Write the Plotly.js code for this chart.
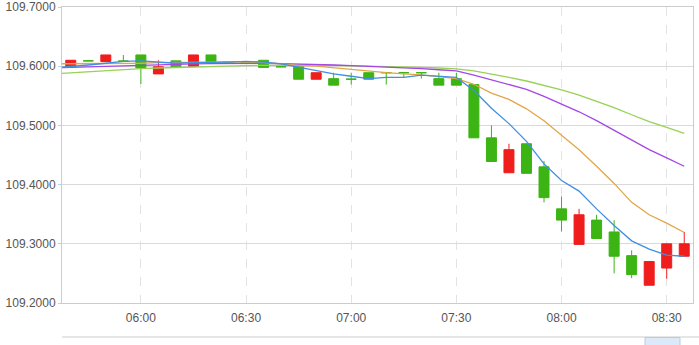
<!DOCTYPE html>
<html>
<head>
<meta charset="utf-8">
<script src="https://cdn.plot.ly/plotly-3.0.1.min.js"></script>
<style>html,body{margin:0;padding:0;background:#fff;}#chart{width:699px;height:345px;}</style>
</head>
<body>
<div id="chart"></div>
<script>
// 5-minute candles, 05:40 .. 08:35
const times = ['05:40','05:45','05:50','05:55','06:00','06:05','06:10','06:15','06:20','06:25','06:30','06:35',
  '06:40','06:45','06:50','06:55','07:00','07:05','07:10','07:15','07:20','07:25','07:30','07:35',
  '07:40','07:45','07:50','07:55','08:00','08:05','08:10','08:15','08:20','08:25','08:30','08:35'];
const openVals  = [109.599,109.6091,109.608,109.609,109.619,109.587,109.609,109.600,109.619,109.6071,109.6061,109.610,
  109.5991,109.599,109.578,109.579,109.5781,109.589,109.5891,109.5891,109.5891,109.579,109.579,109.569,
  109.479,109.420,109.469,109.430,109.359,109.299,109.340,109.320,109.280,109.230,109.259,109.279];
const highVals  = [109.610,109.6091,109.619,109.619,109.619,109.610,109.609,109.619,109.619,109.6071,109.6061,109.610,
  109.5991,109.599,109.589,109.589,109.589,109.589,109.5891,109.5891,109.5891,109.589,109.589,109.569,
  109.500,109.469,109.469,109.440,109.380,109.359,109.349,109.340,109.289,109.270,109.300,109.320];
const lowVals   = [109.599,109.609,109.608,109.608,109.570,109.587,109.599,109.600,109.608,109.607,109.606,109.598,
  109.599,109.578,109.578,109.568,109.569,109.578,109.569,109.580,109.579,109.568,109.568,109.479,
  109.439,109.420,109.419,109.370,109.321,109.299,109.309,109.250,109.242,109.230,109.241,109.279];
const closeVals = [109.610,109.609,109.619,109.608,109.597,109.599,109.599,109.619,109.608,109.607,109.606,109.598,
  109.599,109.578,109.589,109.568,109.578,109.578,109.589,109.589,109.589,109.568,109.568,109.479,
  109.439,109.459,109.419,109.378,109.340,109.349,109.309,109.279,109.248,109.270,109.300,109.300];

// moving-average lines, starting one step before the first candle
const maTimes = ['05:35'].concat(times);
const ma5  = [109.597,109.599,109.602,109.605,109.608,109.609,109.607,109.605,109.606,109.606,109.607,109.608,109.607,
  109.604,109.598,109.593,109.587,109.583,109.579,109.581,109.581,109.585,109.583,109.581,109.559,
  109.529,109.503,109.473,109.435,109.407,109.389,109.359,109.331,109.305,109.291,109.281,109.279];
const ma10 = [109.604,109.604,109.604,109.605,109.605,109.605,109.606,109.606,109.607,109.607,109.6075,109.607,109.606,
  109.604,109.601,109.600,109.597,109.595,109.591,109.589,109.587,109.5855,109.5825,109.579,109.5695,
  109.5545,109.544,109.528,109.508,109.483,109.459,109.431,109.402,109.370,109.349,109.335,109.319];
const ma20 = [109.597,109.598,109.599,109.600,109.601,109.602,109.6025,109.603,109.604,109.6045,109.605,109.605,109.605,
  109.6045,109.604,109.603,109.602,109.601,109.600,109.599,109.5975,109.596,109.594,109.592,109.585,
  109.577,109.570,109.561,109.549,109.536,109.523,109.508,109.492,109.475,109.459,109.445,109.431];
const ma30 = [109.587,109.589,109.591,109.593,109.5945,109.596,109.597,109.598,109.5985,109.599,109.600,109.601,109.6015,
  109.602,109.602,109.602,109.6015,109.601,109.6005,109.600,109.599,109.598,109.597,109.5955,109.592,
  109.587,109.581,109.575,109.568,109.560,109.551,109.541,109.530,109.518,109.5065,109.4965,109.4865];

const yTicks = [109.2,109.3,109.4,109.5,109.6,109.7];
const xTicks = ['06:00','06:30','07:00','07:30','08:00','08:30'];

const day = '2024-01-01 ';
const toDate = t => day + t;

const RED = '#f01d1d', GREEN = '#3cb414';

const traces = [
  {
    type: 'candlestick',
    x: times.map(toDate), open: openVals, high: highVals, low: lowVals, close: closeVals,
    increasing: {line: {color: RED, width: 1}, fillcolor: RED},
    decreasing: {line: {color: GREEN, width: 1}, fillcolor: GREEN},
    whiskerwidth: 0, hoverinfo: 'skip', showlegend: false
  },
  {type: 'scatter', mode: 'lines', x: maTimes.map(toDate), y: ma30, line: {color: '#97d155', width: 1.3}, hoverinfo: 'skip', showlegend: false},
  {type: 'scatter', mode: 'lines', x: maTimes.map(toDate), y: ma20, line: {color: '#a347e6', width: 1.3}, hoverinfo: 'skip', showlegend: false},
  {type: 'scatter', mode: 'lines', x: maTimes.map(toDate), y: ma10, line: {color: '#e2a648', width: 1.3}, hoverinfo: 'skip', showlegend: false},
  {type: 'scatter', mode: 'lines', x: maTimes.map(toDate), y: ma5,  line: {color: '#3f8fe3', width: 1.3}, hoverinfo: 'skip', showlegend: false}
];

// paper coordinates for the navigator strip below the axis
const L = 62, R = 6, T = 7, B = 42, W = 699, H = 345;
const pw = W - L - R, ph = H - T - B;
const px = x => (x - L) / pw;
const py = y => (H - B - y) / ph;

const shapes = [
  {type: 'line', xref: 'paper', yref: 'paper', x0: px(62), x1: px(699), y0: py(337), y1: py(337), line: {color: '#cccccc', width: 1}},
  {type: 'rect', xref: 'paper', yref: 'paper', x0: px(645), x1: px(680), y0: py(337.5), y1: py(346), fillcolor: '#dce9f8', line: {color: '#b8cce6', width: 1}}
];

const layout = {
  width: W, height: H,
  margin: {l: L, r: R, t: T, b: B, pad: 0},
  paper_bgcolor: '#ffffff', plot_bgcolor: '#ffffff',
  font: {family: '"Liberation Sans", Arial, sans-serif', size: 12, color: '#555555'},
  showlegend: false,
  boxgap: 0.43, boxgroupgap: 0,
  hovermode: false,
  xaxis: {
    type: 'date',
    range: [toDate('05:37:30'), toDate('08:37:30')],
    tickvals: xTicks.map(toDate), ticktext: xTicks,
    showgrid: true, gridcolor: '#e3e3e3', griddash: 'dash', gridwidth: 1,
    showline: true, linecolor: '#cccccc', linewidth: 1, mirror: true,
    ticks: '', zeroline: false, ticklabelstandoff: 4,
    rangeslider: {visible: false},
    tickfont: {size: 12, color: '#555555'}
  },
  yaxis: {
    range: [109.2, 109.7],
    tickvals: yTicks, ticktext: yTicks.map(v => v.toFixed(4)),
    showgrid: true, gridcolor: '#d9d9d9', gridwidth: 1,
    showline: true, linecolor: '#cccccc', linewidth: 1, mirror: true,
    ticks: 'outside', ticklen: 3, tickcolor: '#a8d8f5', tickwidth: 1,
    zeroline: false,
    tickfont: {size: 12, color: '#555555'}
  },
  shapes: shapes
};

Plotly.newPlot('chart', traces, layout, {staticPlot: true, displayModeBar: false});
</script>
</body>
</html>
